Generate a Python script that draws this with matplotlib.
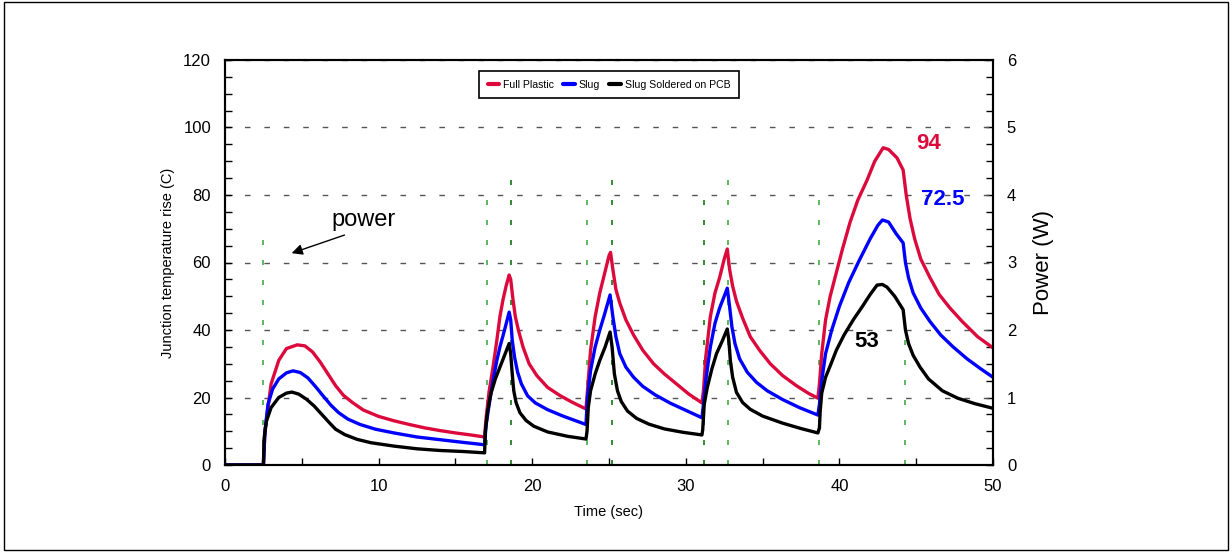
import matplotlib
matplotlib.use('Agg')
import matplotlib.pyplot as plt
from matplotlib.ticker import MultipleLocator
from matplotlib.patches import Rectangle

plt.rcParams['font.family'] = ['Liberation Sans', 'DejaVu Sans']

# junction temperature rise (C)
t_plastic = [0, 2.5, 2.6, 3.0, 3.5, 4.0, 4.7, 5.2, 5.7, 6.2, 6.7, 7.2, 7.7, 8.3, 9.0, 10, 11, 12, 13, 14, 15, 16, 16.9,
             17.0, 17.2, 17.45, 17.7, 17.9, 18.1, 18.3, 18.5, 18.6, 18.75, 18.9, 19.1, 19.4, 19.8, 20.3, 21, 21.8, 22.6, 23.5,
             23.6, 23.8, 24.1, 24.4, 24.7, 25.0, 25.1, 25.25, 25.45, 25.7, 26.1, 26.6, 27.2, 27.9, 28.6, 29.4, 30.2, 31.05,
             31.15, 31.3, 31.6, 31.9, 32.2, 32.5, 32.7, 32.85, 33.05, 33.3, 33.7, 34.2, 34.8, 35.5, 36.3, 37.2, 38, 38.6,
             38.7, 38.85, 39.1, 39.4, 39.8, 40.2, 40.7, 41.2, 41.8, 42.3, 42.85, 43.2, 43.75, 44.15, 44.35, 44.6, 44.9,
             45.3, 45.9, 46.5, 47.2, 48, 49, 50]
y_plastic = [0, 0, 10, 24, 31, 34.5, 35.6, 35.3, 33.5, 30.5, 27, 23.5, 20.7, 18.5, 16.3, 14.4, 13.1, 12, 11, 10.2, 9.5, 8.9, 8.3,
             14, 22, 29, 37, 44, 49, 53, 56.3, 55, 49, 44, 40, 35, 30, 26.5, 23, 20.6, 18.6, 16.6,
             22, 34, 44, 51, 56.5, 62, 63, 58, 52, 48, 43, 38.5, 34, 30, 27, 24, 21, 18.4,
             22, 32, 44, 51, 55.5, 61, 64, 58, 53, 48.5, 43.5, 38, 34, 30, 26.5, 23.5, 21.2, 19.8,
             24, 33, 43, 50, 57, 64, 72, 78.5, 84.4, 90, 94, 93.5, 91, 87.4, 80, 73, 67,
             61, 55.5, 50.5, 46.5, 42.5, 38, 34.7]

t_slug = [0, 2.5, 2.6, 2.8, 3.1, 3.5, 4.0, 4.43, 4.9, 5.4, 5.9, 6.4, 6.9, 7.4, 8, 8.8, 9.8, 11, 12.5, 14, 15.5, 16.9,
          17.0, 17.2, 17.45, 17.7, 17.9, 18.2, 18.5, 18.6, 18.7, 18.85, 19.05, 19.3, 19.7, 20.2, 21, 22, 23.5,
          23.6, 23.8, 24.1, 24.4, 24.7, 25.07, 25.25, 25.45, 25.7, 26.1, 26.6, 27.2, 28, 29, 30, 31.05,
          31.15, 31.3, 31.6, 31.9, 32.2, 32.5, 32.7, 32.85, 33.0, 33.2, 33.5, 34, 34.6, 35.3, 36.3, 37.4, 38.6,
          38.7, 38.85, 39.1, 39.5, 40, 40.6, 41.3, 42, 42.5, 42.8, 43.2, 43.7, 44.15, 44.3, 44.5, 44.8,
          45.3, 45.9, 46.6, 47.4, 48.3, 49.2, 50]
y_slug = [0, 0, 10, 18, 22.5, 25.5, 27.3, 27.9, 27.4, 25.8, 23.2, 20.4, 17.7, 15.5, 13.6, 12, 10.6, 9.5, 8.3, 7.5, 6.7, 6,
          12, 18, 25, 31, 35, 40, 45.3, 43, 37, 32, 27.5, 24, 20.5, 18.4, 16.4, 14.5, 12,
          20, 28, 35, 40, 44.5, 50.4, 44, 38, 33, 29, 26, 23.3, 20.8, 18.3, 16.2, 14,
          18, 25, 35, 42, 46.5, 50, 52.4, 47, 41, 36, 31.5, 27.5, 24.5, 22, 19.4, 17, 14.8,
          18, 25, 33, 40, 47, 54, 60.7, 67, 71, 72.6, 72, 68.5, 65.8, 60, 55.5, 51,
          46.5, 42.5, 38.5, 35, 31.5, 28.5, 26]

t_pcb = [0, 2.5, 2.55, 2.7, 3.0, 3.5, 4.0, 4.36, 4.8, 5.3, 5.8, 6.3, 6.8, 7.2, 7.8, 8.6, 9.5, 11, 12.5, 14, 15.5, 16.9,
         16.95, 17.1, 17.3, 17.6, 17.9, 18.2, 18.5, 18.6, 18.7, 18.8, 18.95, 19.2, 19.6, 20.1, 21, 22.3, 23.5,
         23.57, 23.65, 23.8, 24.1, 24.4, 24.75, 25.07, 25.2, 25.35, 25.55, 25.8, 26.2, 26.8, 27.6, 28.6, 29.8, 31.05,
         31.1, 31.2, 31.4, 31.7, 32.0, 32.35, 32.7, 32.8, 32.9, 33.05, 33.3, 33.7, 34.2, 35, 36.3, 37.5, 38.6,
         38.7, 38.75, 38.85, 39.1, 39.5, 39.8, 40.3, 40.9, 41.5, 42.0, 42.45, 42.8, 43.1, 43.6, 44.15, 44.3, 44.5,
         44.8, 45.25, 45.8, 46.7, 47.7, 48.8, 50]
y_pcb = [0, 0, 8, 13, 17, 20, 21.3, 21.6, 21, 19.5, 17.5, 15, 12.5, 10.6, 9, 7.6, 6.6, 5.6, 4.8, 4.3, 4, 3.6,
         10, 16, 21, 25.5, 29, 32.5, 36, 33, 27, 22, 18.5, 15.5, 13.2, 11.5, 9.8, 8.5, 7.7,
         10, 17, 22, 27, 31, 35, 39.4, 35, 27, 22, 18.8, 16, 13.8, 12.1, 10.7, 9.7, 8.9,
         10.4, 18, 23, 28.5, 33, 36.5, 40.3, 37, 31, 26, 21.5, 18.5, 16.5, 14.5, 12.4, 10.8, 9.5,
         11, 16, 21.3, 26, 30.5, 34, 38.5, 43, 47, 50.5, 53.3, 53.5, 52.7, 50, 46, 40, 36,
         32.5, 29, 25.5, 22, 19.8, 18.2, 16.8]

# power steps (W), only the vertical edges are visible
power_t = [2.5, 17.05, 18.6, 23.6, 25.2, 31.2, 32.75, 38.7, 44.3]
power_top = [3.5, 4.1, 4.25, 4.1, 4.25, 4.1, 4.25, 4.1, 2.3]
power_col = ['#44aa44', '#44aa44', '#117711', '#44aa44', '#117711', '#117711', '#44aa44', '#44aa44', '#44aa44']

red = '#dc0a3c'

fig = plt.figure(figsize=(12.32, 5.52), dpi=100)
ax1 = fig.add_axes([225 / 1232, 87 / 552, 768 / 1232, 405 / 552])
ax2 = ax1.twinx()
ax1.set_zorder(ax2.get_zorder() + 1)
ax1.patch.set_visible(False)

ax2.vlines(power_t, 0, power_top, colors=power_col, linestyles=(0, (3, 9)), lw=1.2)

ax1.plot(t_plastic, y_plastic, color=red, lw=2.4, label='Full Plastic', solid_joinstyle='round')
ax1.plot(t_slug, y_slug, color='#0000ff', lw=2.4, label='Slug', solid_joinstyle='round')
ax1.plot(t_pcb, y_pcb, color='black', lw=2.4, label='Slug Soldered on PCB', solid_joinstyle='round')

ax1.set_xlim(0, 50)
ax1.set_ylim(0, 120)
ax2.set_ylim(0, 6)

ax1.xaxis.set_major_locator(MultipleLocator(10))
ax1.xaxis.set_minor_locator(MultipleLocator(5))
ax1.yaxis.set_major_locator(MultipleLocator(20))
ax1.yaxis.set_minor_locator(MultipleLocator(5))
ax2.yaxis.set_major_locator(MultipleLocator(1))
ax2.yaxis.set_minor_locator(MultipleLocator(0.25))

ax1.tick_params(which='both', direction='in', length=5, width=1, labelsize=12, pad=10, top=False, right=False)
ax2.tick_params(which='both', direction='in', length=5, width=1, labelsize=12, pad=10)

ax1.yaxis.grid(True, which='major', linestyle=(0, (4, 10)), color='#555555', lw=1)

for ax in (ax1, ax2):
    for s in ax.spines.values():
        s.set_linewidth(1.5)

ax1.set_xlabel('Time (sec)', fontsize=10.5, labelpad=8)
ax1.set_ylabel('Junction temperature rise (C)', fontsize=10.5, labelpad=6)
ax2.set_ylabel('Power (W)', fontsize=16, labelpad=12)

leg = ax1.legend(loc='upper center', bbox_to_anchor=(0.5, 0.985), ncol=3, fontsize=7.6,
                 handlelength=1.1, handletextpad=0.35, columnspacing=0.9, fancybox=False,
                 framealpha=1, edgecolor='black', borderpad=0.8)
leg.get_frame().set_linewidth(1.2)
for h in leg.get_lines():
    h.set_linewidth(3)
    h.set_solid_capstyle('round')

ax1.text(45.8, 95.4, '94', color=red, fontsize=16, fontweight='bold', ha='center', va='center')
ax1.text(46.7, 78.8, '72.5', color='#0000ff', fontsize=16, fontweight='bold', ha='center', va='center')
ax1.text(41.8, 36.7, '53', color='black', fontsize=16, fontweight='bold', ha='center', va='center')

ax1.text(9.0, 72.5, 'power', fontsize=17, ha='center', va='center')
ax1.annotate('', xy=(4.17, 62.5), xytext=(7.95, 68.4),
             arrowprops=dict(arrowstyle='-|>', color='black', lw=1, mutation_scale=16))

fig.patches.append(Rectangle((0.003, 0.004), 0.994, 0.992, transform=fig.transFigure,
                             fill=False, edgecolor='black', lw=1))

fig.savefig('out.png', dpi=100)
